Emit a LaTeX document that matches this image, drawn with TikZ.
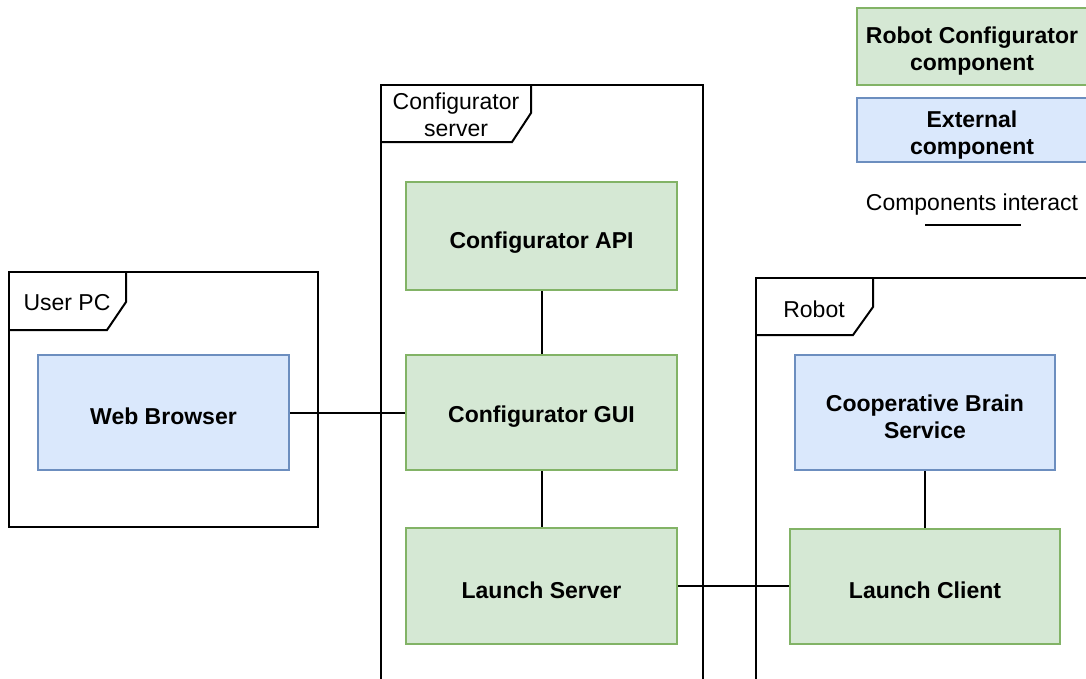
\documentclass[tikz,border=0pt]{standalone}
\usepackage{fontspec}
\setmainfont{Liberation Sans}
\definecolor{ownfill}{HTML}{D5E8D4}
\definecolor{owndraw}{HTML}{82B366}
\definecolor{extfill}{HTML}{DAE8FC}
\definecolor{extdraw}{HTML}{6C8EBF}
\tikzset{
  comp/.style={rectangle, line width=2pt, inner sep=0pt},
  own/.style={comp, fill=ownfill, draw=owndraw},
  ext/.style={comp, fill=extfill, draw=extdraw},
  comptext/.style={align=center, inner sep=0pt,
    font=\fontsize{23}{27}\selectfont\bfseries},
  frame/.style={draw=black, line width=2pt},
  tabtext/.style={font=\fontsize{23}{27}\selectfont, align=center, inner sep=0pt},
  link/.style={draw=black, line width=2pt}
}
\begin{document}
\begin{tikzpicture}[x=1pt, y=-1pt]
\useasboundingbox (0,0) rectangle (1086,678);
\clip (0,0) rectangle (1086,678);

% deployment frames
\draw[frame] (381,85) rectangle (703,720);
\draw[frame] (381,142) -- (512,142) -- (531,113) -- (531,85);
\node[tabtext] (srvlabel) at (456,115) {Configurator\\server};

\draw[frame] (9,272) rectangle (318,527);
\draw[frame] (9,330) -- (107,330) -- (126,302) -- (126,272);
\node[tabtext] (pclabel) at (67,303) {User PC};

\draw[frame] (756,278) rectangle (1120,720);
\draw[frame] (756,335) -- (853,335) -- (873,307) -- (873,278);
\node[tabtext] (robotlabel) at (814,309) {Robot};

% components
\node[own, minimum width=271pt, minimum height=108pt] (api) at (541.5,236) {};
\node[comptext] (apitext) at ([yshift=-6.5pt]api.center) {Configurator API};
\node[own, minimum width=271pt, minimum height=115pt] (gui) at (541.5,412.5) {};
\node[comptext] (guitext) at ([yshift=-4pt]gui.center) {Configurator GUI};
\node[own, minimum width=271pt, minimum height=116pt] (lserver) at (541.5,586) {};
\node[comptext] (lservertext) at ([yshift=-4pt]lserver.center) {Launch Server};
\node[ext, minimum width=251pt, minimum height=115pt] (browser) at (163.5,412.5) {};
\node[comptext] (browsertext) at ([yshift=-4pt]browser.center) {Web Browser};
\node[ext, minimum width=260pt, minimum height=115pt] (brain) at (925,412.5) {};
\node[comptext] (braintext) at ([yshift=-4pt]brain.center) {Cooperative Brain\\Service};
\node[own, minimum width=270pt, minimum height=115pt] (lclient) at (925,586) {};
\node[comptext] (lclienttext) at ([yshift=-4pt]lclient.center) {Launch Client};

% interactions
\draw[link] (browser.east) -- (gui.west);
\draw[link] (api.south) -- (gui.north);
\draw[link] (gui.south) -- (lserver.north);
\draw[link] (lserver.east) -- (lclient.west);
\draw[link] (brain.south) -- (lclient.north);

% legend
\node[own, minimum width=230pt, minimum height=77pt] (legown) at (972,46.5) {};
\node[comptext] (legowntext) at ([yshift=-4.5pt]legown.center) {Robot Configurator\\component};
\node[ext, minimum width=230pt, minimum height=64pt] (legext) at (972,130) {};
\node[comptext] (legexttext) at ([yshift=-5pt]legext.center) {External\\component};
\node[tabtext] (leglink) at (972,205) {Components interact};
\coordinate (legA) at (925,225);
\coordinate (legB) at (1021,225);
\draw[link] (legA) -- (legB);
\end{tikzpicture}
\end{document}
